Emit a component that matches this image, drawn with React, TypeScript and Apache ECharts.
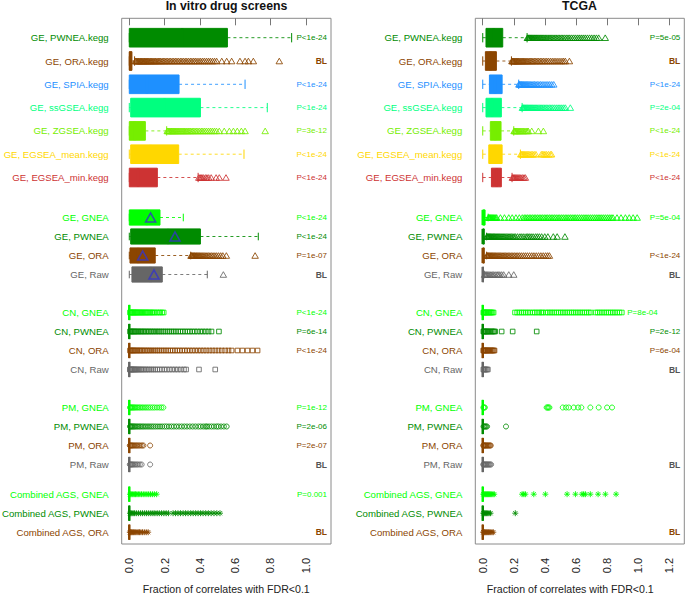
import React, { useEffect, useRef } from "react";
import * as echarts from "echarts";

// ---------------- DATA ----------------
const rowLabels = [
  "GE, PWNEA.kegg", "GE, ORA.kegg", "GE, SPIA.kegg", "GE, ssGSEA.kegg", "GE, ZGSEA.kegg",
  "GE, EGSEA_mean.kegg", "GE, EGSEA_min.kegg",
  "GE, GNEA", "GE, PWNEA", "GE, ORA", "GE, Raw",
  "CN, GNEA", "CN, PWNEA", "CN, ORA", "CN, Raw",
  "PM, GNEA", "PM, PWNEA", "PM, ORA", "PM, Raw",
  "Combined AGS, GNEA", "Combined AGS, PWNEA", "Combined AGS, ORA",
];
const groupSizes = [7, 4, 4, 4, 3];
const panelTitles = ["In vitro drug screens", "TCGA"];
const xAxisTitle = "Fraction of correlates with FDR<0.1";
const invitroTicks = [0, 0.2, 0.4, 0.6, 0.8, 1.0];
const tcgaTicks = [0, 0.2, 0.4, 0.6, 0.8, 1.0, 1.2];

// box stats: [lower whisker, Q1, median, Q3, upper whisker]
const invitroBox = [
  [0, 0, 0.3, 0.556, 0.92],
  [0, 0, 0.005, 0.015, 0.03],
  [0, 0, 0.1, 0.282, 0.656],
  [0, 0.008, 0.2, 0.403, 0.782],
  [0, 0, 0.03, 0.091, 0.212],
  [0, 0.008, 0.12, 0.28, 0.65],
  [0, 0, 0.05, 0.159, 0.39],
  [0, 0, 0.1, 0.174, 0.306],
  [0, 0.008, 0.22, 0.403, 0.731],
  [0, 0.004, 0.05, 0.147, 0.348],
  [0, 0.015, 0.12, 0.187, 0.442],
  [0, 0, 0, 0, 0], [0, 0, 0, 0, 0], [0, 0, 0, 0, 0], [0, 0, 0, 0, 0],
  [0, 0, 0, 0, 0], [0, 0, 0, 0, 0], [0, 0, 0, 0, 0], [0, 0, 0, 0, 0],
  [0, 0, 0, 0, 0], [0, 0, 0, 0, 0], [0, 0, 0, 0, 0],
];
const invitroMeans = [null, null, null, null, null, null, null, 0.121, 0.259, 0.076, 0.14,
  null, null, null, null, null, null, null, null, null, null, null];
const invitroP = ["P<1e-24", "BL", "P<1e-24", "P<1e-24", "P=3e-12", "P<1e-24", "P<1e-24",
  "P<1e-24", "P<1e-24", "P=1e-07", "BL",
  "P<1e-24", "P=6e-14", "P<1e-24", "",
  "P=1e-12", "P=2e-06", "P=2e-07", "BL",
  "P=0.001", "", "BL"];
const invitroOutliers = [
  [],
  [0.034,0.038,0.042,0.047,0.051,0.055,0.06,0.064,0.069,0.073,0.078,0.083,0.087,0.092,0.097,0.102,0.107,0.112,0.118,0.123,0.128,0.134,0.14,0.146,0.151,0.158,0.165,0.171,0.178,0.186,0.193,0.201,0.209,0.217,0.226,0.234,0.243,0.252,0.261,0.27,0.279,0.289,0.298,0.307,0.317,0.326,0.336,0.346,0.355,0.365,0.374,0.384,0.395,0.405,0.416,0.426,0.437,0.448,0.459,0.471,0.483,0.495,0.524,0.552,0.58,0.627,0.656,0.675,0.703,0.85],
  [],
  [],
  [0.215,0.219,0.224,0.228,0.233,0.238,0.242,0.247,0.252,0.257,0.262,0.267,0.273,0.278,0.284,0.29,0.296,0.302,0.308,0.314,0.321,0.327,0.334,0.341,0.348,0.356,0.363,0.372,0.38,0.389,0.398,0.408,0.417,0.427,0.437,0.448,0.459,0.47,0.482,0.494,0.51,0.538,0.567,0.59,0.612,0.635,0.656,0.77],
  [],
  [0.394,0.401,0.407,0.413,0.421,0.432,0.44,0.45,0.464,0.492,0.51,0.548],
  [],
  [],
  [0.35,0.353,0.357,0.361,0.365,0.369,0.373,0.378,0.382,0.387,0.392,0.397,0.402,0.408,0.414,0.42,0.427,0.434,0.441,0.449,0.457,0.466,0.475,0.485,0.495,0.506,0.518,0.53,0.55,0.713],
  [0.533],
  [0.004,0.008,0.012,0.016,0.021,0.025,0.03,0.035,0.04,0.045,0.05,0.056,0.062,0.068,0.074,0.08,0.087,0.093,0.1,0.107,0.114,0.121,0.129,0.137,0.145,0.156,0.166,0.175,0.186,0.195],
  [0.004,0.009,0.014,0.02,0.026,0.032,0.039,0.046,0.053,0.061,0.069,0.077,0.085,0.094,0.103,0.112,0.121,0.131,0.141,0.151,0.162,0.172,0.183,0.194,0.205,0.217,0.228,0.24,0.252,0.264,0.277,0.29,0.303,0.316,0.33,0.343,0.357,0.371,0.386,0.402,0.417,0.433,0.449,0.466,0.508],
  [0.004,0.009,0.014,0.02,0.026,0.033,0.04,0.047,0.055,0.063,0.071,0.08,0.089,0.098,0.108,0.118,0.128,0.139,0.15,0.161,0.172,0.184,0.196,0.208,0.22,0.233,0.246,0.259,0.272,0.286,0.3,0.314,0.328,0.343,0.358,0.373,0.389,0.405,0.421,0.437,0.454,0.471,0.488,0.506,0.524,0.543,0.562,0.58,0.613,0.641,0.67,0.698,0.727],
  [0.003,0.006,0.01,0.014,0.018,0.023,0.028,0.033,0.039,0.045,0.052,0.059,0.067,0.075,0.084,0.093,0.103,0.113,0.124,0.135,0.147,0.159,0.172,0.185,0.199,0.213,0.228,0.243,0.259,0.275,0.292,0.31,0.322,0.395,0.487],
  [0.004,0.008,0.013,0.018,0.024,0.03,0.037,0.044,0.052,0.06,0.069,0.078,0.088,0.098,0.109,0.12,0.132,0.144,0.157,0.17,0.182,0.193],
  [0.004,0.008,0.013,0.018,0.024,0.03,0.037,0.044,0.052,0.06,0.068,0.077,0.086,0.096,0.106,0.116,0.127,0.138,0.15,0.162,0.174,0.186,0.199,0.212,0.225,0.239,0.253,0.267,0.282,0.297,0.312,0.327,0.343,0.359,0.375,0.391,0.405,0.419,0.432,0.44,0.452,0.466,0.48,0.494,0.505,0.52,0.536,0.552],
  [0.003,0.007,0.011,0.016,0.021,0.027,0.033,0.04,0.047,0.055,0.063,0.072,0.08,0.118],
  [0.003,0.007,0.011,0.016,0.021,0.027,0.034,0.042,0.05,0.06,0.07,0.118],
  [0.004,0.009,0.015,0.021,0.028,0.035,0.043,0.051,0.06,0.069,0.079,0.089,0.1,0.11,0.12,0.131,0.142,0.155],
  [0.004,0.009,0.015,0.022,0.03,0.04,0.052,0.064,0.075,0.087,0.098,0.11,0.122,0.134,0.145,0.158,0.17,0.183,0.196,0.209,0.222,0.248,0.262,0.276,0.29,0.305,0.319,0.333,0.348,0.362,0.376,0.39,0.404,0.418,0.433,0.448,0.464,0.48,0.496,0.514],
  [0.003,0.007,0.011,0.015,0.02,0.025,0.031,0.037,0.044,0.051,0.058,0.066,0.075,0.085,0.096,0.107],
];

const tcgaBox = [
  [0, 0.021, 0.07, 0.129, 0.286],
  [0, 0.017, 0.05, 0.088, 0.185],
  [0, 0.043, 0.08, 0.125, 0.232],
  [0, 0.021, 0.06, 0.12, 0.254],
  [0, 0.049, 0.08, 0.118, 0.2],
  [0, 0.039, 0.08, 0.125, 0.243],
  [0, 0.056, 0.09, 0.12, 0.189],
  [0, 0, 0, 0.015, 0.035],
  [0, 0, 0, 0.01, 0.025],
  [0, 0, 0, 0.01, 0.025],
  [0, 0, 0, 0.004, 0.01],
  [0, 0, 0, 0, 0], [0, 0, 0, 0, 0], [0, 0, 0, 0, 0], [0, 0, 0, 0, 0],
  [0, 0, 0, 0, 0], [0, 0, 0, 0, 0], [0, 0, 0, 0, 0], [0, 0, 0, 0, 0],
  [0, 0, 0, 0, 0], [0, 0, 0, 0, 0], [0, 0, 0, 0, 0],
];
const tcgaMeans = rowLabels.map(() => null);
const tcgaP = ["P=5e-05", "BL", "P<1e-24", "P=2e-04", "P<1e-24", "P<1e-24", "P<1e-24",
  "P=5e-04", "", "P<1e-24", "BL",
  "P=8e-04", "P=2e-12", "P=6e-04", "BL",
  "", "", "", "BL",
  "", "", "BL"];
const tcgaOutliers = [
  [0.288,0.292,0.297,0.301,0.306,0.311,0.316,0.321,0.326,0.332,0.337,0.343,0.349,0.355,0.361,0.368,0.374,0.381,0.388,0.395,0.403,0.41,0.418,0.426,0.434,0.442,0.451,0.46,0.469,0.478,0.488,0.497,0.507,0.517,0.528,0.539,0.55,0.561,0.573,0.585,0.597,0.61,0.622,0.635,0.648,0.661,0.675,0.689,0.703,0.718,0.733,0.748,0.79],
  [0.188,0.192,0.196,0.2,0.205,0.209,0.214,0.219,0.224,0.229,0.234,0.24,0.246,0.252,0.258,0.264,0.271,0.278,0.285,0.292,0.3,0.308,0.316,0.324,0.333,0.342,0.351,0.361,0.371,0.381,0.391,0.402,0.413,0.424,0.436,0.448,0.46,0.472,0.485,0.498,0.511,0.522,0.533,0.559],
  [0.233,0.237,0.241,0.245,0.25,0.255,0.26,0.265,0.271,0.277,0.283,0.289,0.296,0.303,0.31,0.318,0.326,0.334,0.343,0.352,0.362,0.372,0.383,0.395,0.408,0.42,0.432,0.445,0.458],
  [0.256,0.26,0.264,0.268,0.273,0.278,0.283,0.288,0.293,0.299,0.305,0.311,0.317,0.323,0.33,0.337,0.344,0.351,0.359,0.367,0.375,0.383,0.392,0.401,0.41,0.42,0.43,0.44,0.451,0.462,0.474,0.486,0.498,0.51,0.522,0.533,0.565],
  [0.202,0.206,0.21,0.215,0.22,0.225,0.231,0.237,0.243,0.25,0.257,0.264,0.272,0.28,0.288,0.294,0.316,0.359,0.391],
  [0.245,0.25,0.256,0.262,0.268,0.274,0.281,0.288,0.296,0.304,0.313,0.322,0.332,0.343,0.378,0.386,0.394,0.402,0.412,0.424,0.436,0.444],
  [0.191,0.196,0.201,0.206,0.212,0.218,0.224,0.231,0.238,0.246,0.256,0.266,0.275],
  [0.036,0.04,0.044,0.048,0.052,0.057,0.062,0.067,0.072,0.078,0.084,0.09,0.114,0.14,0.168,0.19,0.214,0.236,0.255,0.268,0.278,0.289,0.3,0.31,0.321,0.332,0.342,0.353,0.364,0.375,0.386,0.397,0.408,0.419,0.43,0.441,0.452,0.463,0.474,0.486,0.497,0.509,0.52,0.532,0.543,0.555,0.566,0.577,0.589,0.6,0.612,0.624,0.636,0.648,0.66,0.672,0.684,0.696,0.708,0.72,0.732,0.744,0.756,0.768,0.78,0.792,0.804,0.816,0.828,0.84,0.866,0.892,0.92,0.945,0.97,0.996],
  [0.026,0.03,0.034,0.038,0.042,0.046,0.05,0.055,0.06,0.065,0.07,0.075,0.08,0.086,0.092,0.098,0.104,0.11,0.117,0.124,0.131,0.138,0.145,0.153,0.161,0.169,0.177,0.185,0.194,0.203,0.212,0.225,0.24,0.252,0.265,0.28,0.29,0.3,0.312,0.325,0.34,0.352,0.365,0.38,0.4,0.42,0.455,0.48,0.53],
  [0.026,0.03,0.034,0.038,0.043,0.048,0.053,0.058,0.063,0.069,0.075,0.081,0.087,0.094,0.101,0.108,0.115,0.123,0.131,0.139,0.147,0.156,0.165,0.174,0.184,0.194,0.204,0.215,0.226,0.237,0.249,0.262,0.275,0.288,0.302,0.316,0.33,0.345,0.36,0.375,0.39,0.405,0.418,0.43],
  [0.012,0.018,0.024,0.03,0.037,0.045,0.053,0.062,0.07,0.08,0.092,0.1,0.11,0.122,0.135,0.168,0.2],
  [0.004,0.008,0.012,0.017,0.022,0.027,0.032,0.038,0.044,0.05,0.056,0.063,0.07,0.208,0.222,0.236,0.25,0.263,0.277,0.291,0.305,0.322,0.336,0.35,0.364,0.378,0.387,0.406,0.42,0.434,0.447,0.461,0.475,0.489,0.503,0.517,0.531,0.545,0.559,0.573,0.586,0.6,0.614,0.628,0.642,0.656,0.67,0.684,0.697,0.727,0.741,0.755,0.769,0.783,0.797,0.811,0.825,0.839,0.853,0.867,0.882,0.897],
  [0.004,0.008,0.013,0.018,0.024,0.03,0.036,0.043,0.05,0.058,0.066,0.074,0.08,0.122,0.193,0.348],
  [0.003,0.007,0.011,0.015,0.02,0.025,0.03,0.035,0.041,0.047,0.053,0.059,0.065,0.071,0.076],
  [0.004,0.009,0.014,0.02,0.027,0.033],
  [0.004,0.009,0.014,0.412,0.418,0.424,0.43,0.516,0.537,0.555,0.587,0.615,0.636,0.694,0.748,0.802,0.834],
  [0.005,0.01,0.016,0.022,0.028,0.15],
  [0.003,0.007,0.011,0.015,0.02,0.025,0.03,0.035,0.041,0.047,0.052],
  [0.003,0.007,0.011,0.016,0.021,0.026,0.031,0.036,0.042,0.048,0.054],
  [0.004,0.009,0.014,0.019,0.025,0.031,0.037,0.044,0.051,0.058,0.066,0.074,0.254,0.265,0.275,0.329,0.404,0.544,0.598,0.64,0.651,0.662,0.694,0.744,0.791,0.86],
  [0.004,0.009,0.014,0.02,0.026,0.033,0.041,0.05,0.21],
  [0.003,0.007,0.011,0.016,0.021,0.026,0.032,0.038,0.045,0.052,0.06,0.068],
];

// ---------------- STYLE / LAYOUT ----------------
const FONT = '"Liberation Sans", Arial, Helvetica, sans-serif';
const methodColors: Record<string, string> = {
  PWNEA: "#008B00",
  ORA: "#8B4500",
  SPIA: "#1E90FF",
  ssGSEA: "#00FF7F",
  ZGSEA: "#76EE00",
  EGSEA_mean: "#FFD700",
  EGSEA_min: "#CD3333",
  GNEA: "#00FF00",
  Raw: "#666666",
};
const MEAN_COLOR = "#3535C8";
const ASTERISK = "path://M5,0L5,10M0,5L10,5M1.5,1.5L8.5,8.5M1.5,8.5L8.5,1.5";
const shapeFor = (label: string) => {
  if (label.startsWith("CN")) return { symbol: "rect", size: [4.6, 4.6] };
  if (label.startsWith("PM")) return { symbol: "circle", size: [5, 5] };
  if (label.startsWith("Combined")) return { symbol: ASTERISK, size: [6, 6] };
  return { symbol: "triangle", size: [6.5, 5.6] };
};
const colorFor = (label: string) => methodColors[label.split(", ")[1].replace(".kegg", "")];

// vertical layout (pixel-like units of the y value axis)
const Y_MAX = 525.7;
const layoutCfg = { first: 19.4, spacing: [23.3, 19, 19, 19, 19], gapBefore: [0, 40, 38, 38, 29.7], boxwex: 0.8 };
const rowY: number[] = [];
const rowBw: number[] = [];
(() => {
  let y = layoutCfg.first;
  groupSizes.forEach((n, g) => {
    if (g > 0) y += layoutCfg.gapBefore[g];
    for (let k = 0; k < n; k++) {
      if (k > 0) y += layoutCfg.spacing[g];
      rowY.push(y);
      rowBw.push(layoutCfg.boxwex * layoutCfg.spacing[g]);
    }
  });
})();

const panels = [
  {
    box: invitroBox, outliers: invitroOutliers, means: invitroMeans, pvals: invitroP, ticks: invitroTicks,
    grid: { left: 121.7, top: 18.3, width: 209.3, height: Y_MAX },
    xMin: -0.043, xMax: 1.143, titleX: 226.5, xTitleX: 226.3, pShift: {} as Record<number, number>,
  },
  {
    box: tcgaBox, outliers: tcgaOutliers, means: tcgaMeans, pvals: tcgaP, ticks: tcgaTicks,
    grid: { left: 475.3, top: 18.3, width: 209, height: Y_MAX },
    xMin: -0.048, xMax: 1.3, titleX: 579.5, xTitleX: 570.3, pShift: { 11: -22.6 } as Record<number, number>,
  },
];

function buildOption() {
  const grid: any[] = [];
  const xAxis: any[] = [];
  const yAxis: any[] = [];
  const series: any[] = [];
  const graphic: any[] = [];

  panels.forEach((p, pi) => {
    grid.push({ ...p.grid, show: true, borderColor: "#8a8a8a", borderWidth: 1, backgroundColor: "transparent", containLabel: false });
    xAxis.push({
      type: "value", gridIndex: pi, min: p.xMin, max: p.xMax,
      axisLine: { show: false },
      splitLine: { show: false },
      axisTick: { show: true, customValues: p.ticks, length: 7, lineStyle: { color: "#777", width: 1 } },
      axisLabel: {
        customValues: p.ticks, rotate: 90, margin: 14, fontSize: 11, color: "#222", fontFamily: FONT,
        formatter: (v: number) => v.toFixed(1),
      },
    });
    yAxis.push({ type: "value", gridIndex: pi, min: 0, max: Y_MAX, inverse: true, show: false });

    series.push({
      type: "custom", xAxisIndex: pi, yAxisIndex: pi, z: 2, silent: true,
      data: rowLabels.map((_, i) => [p.box[i][0], rowY[i]]),
      renderItem: (params: any, api: any) => {
        const i = params.dataIndex;
        const [lo, q1, med, q3, hi] = p.box[i];
        const y = rowY[i];
        const bw = rowBw[i];
        const label = rowLabels[i];
        const c = colorFor(label);
        const px = (v: number) => api.coord([v, y])[0];
        const yc = api.coord([0, y])[1];
        const top = api.coord([0, y - bw / 2])[1];
        const bot = api.coord([0, y + bw / 2])[1];
        const sTop = api.coord([0, y - bw / 4])[1];
        const sBot = api.coord([0, y + bw / 4])[1];
        const children: any[] = [];
        const dash = { stroke: c, lineWidth: 1, lineDash: [3, 3], opacity: 0.85 };
        if (hi > q3) children.push({ type: "line", shape: { x1: px(q3), y1: yc, x2: px(hi), y2: yc }, style: dash });
        if (lo < q1) children.push({ type: "line", shape: { x1: px(lo), y1: yc, x2: px(q1), y2: yc }, style: dash });
        children.push({ type: "line", shape: { x1: px(lo), y1: sTop, x2: px(lo), y2: sBot }, style: { stroke: c, lineWidth: 1 } });
        children.push({ type: "line", shape: { x1: px(hi), y1: sTop, x2: px(hi), y2: sBot }, style: { stroke: c, lineWidth: 1 } });
        children.push({ type: "rect", shape: { x: px(q1), y: top, width: px(q3) - px(q1), height: bot - top }, style: { fill: c, stroke: c, lineWidth: 1 } });
        children.push({ type: "line", shape: { x1: px(med), y1: top, x2: px(med), y2: bot }, style: { stroke: c, lineWidth: 2.5 } });
        children.push({
          type: "text", x: px(p.xMin) - 13, y: yc,
          style: { text: label, fill: c, align: "right", verticalAlign: "middle", fontSize: 9.6, fontFamily: FONT },
        });
        const pv = p.pvals[i];
        if (pv) {
          const bold = pv === "BL";
          children.push({
            type: "text", x: px(p.xMax) - 4 + (p.pShift[i] || 0), y: yc,
            style: {
              text: pv, fill: bold ? (label.includes("Raw") ? "#555555" : c) : c,
              align: "right", verticalAlign: "middle",
              fontSize: bold ? 8.5 : 8, fontWeight: bold ? "bold" : "normal", fontFamily: FONT,
            },
          });
        }
        return { type: "group", children };
      },
    });

    rowLabels.forEach((label, i) => {
      const vals = p.outliers[i];
      if (!vals.length) return;
      const sh = shapeFor(label);
      const c = colorFor(label);
      series.push({
        type: "scatter", xAxisIndex: pi, yAxisIndex: pi, z: 3, silent: true,
        symbol: sh.symbol, symbolSize: sh.size,
        itemStyle: { color: "none", borderColor: c, borderWidth: 0.85, opacity: 1 },
        data: vals.map((v) => [v, rowY[i]]),
      });
    });

    const meanData = p.means
      .map((m, i) => (m == null ? null : [m, rowY[i]]))
      .filter((d) => d != null);
    if (meanData.length) {
      series.push({
        type: "scatter", xAxisIndex: pi, yAxisIndex: pi, z: 4, silent: true,
        symbol: "triangle", symbolSize: [10, 9],
        itemStyle: { color: "none", borderColor: MEAN_COLOR, borderWidth: 1.6 },
        data: meanData,
      });
    }

    graphic.push({
      type: "text", x: p.titleX, y: 6, z: 10,
      style: { text: panelTitles[pi], fill: "#111", align: "center", verticalAlign: "middle", fontSize: 12.3, fontWeight: "bold", fontFamily: FONT },
    });
    graphic.push({
      type: "text", x: p.xTitleX, y: 589, z: 10,
      style: { text: xAxisTitle, fill: "#222", align: "center", verticalAlign: "middle", fontSize: 10.6, fontFamily: FONT },
    });
  });

  return {
    animation: false,
    backgroundColor: "#ffffff",
    textStyle: { fontFamily: FONT },
    grid, xAxis, yAxis, series, graphic,
  };
}

export default function App() {
  const ref = useRef<HTMLDivElement>(null);
  useEffect(() => {
    if (!ref.current) return;
    const chart = echarts.init(ref.current, null, { renderer: "svg" });
    chart.setOption(buildOption() as any);
    return () => chart.dispose();
  }, []);
  return <div ref={ref} style={{ position: "absolute", left: 0, top: 0, width: 685, height: 594 }} />;
}
